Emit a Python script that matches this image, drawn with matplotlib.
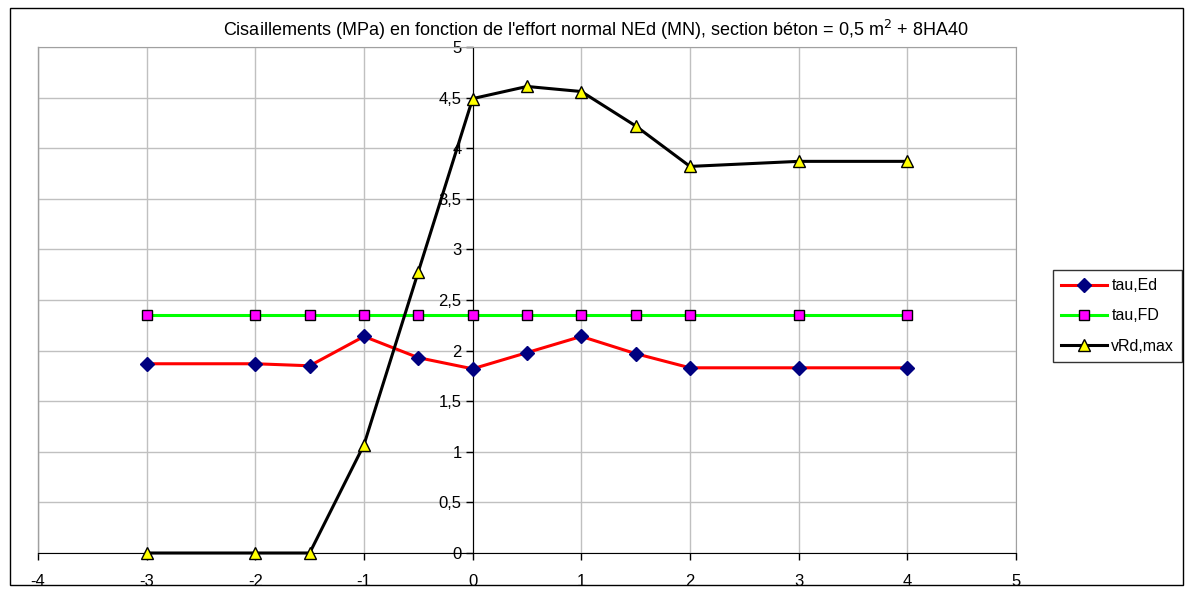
import matplotlib
matplotlib.use("Agg")
import matplotlib.pyplot as plt
from matplotlib.patches import Rectangle
from matplotlib.ticker import FuncFormatter

plt.rcParams['font.family'] = ['Liberation Sans', 'DejaVu Sans']

x_vals = [-3, -2, -1.5, -1, -0.5, 0, 0.5, 1, 1.5, 2, 3, 4]
tau_ed = [1.87, 1.87, 1.85, 2.14, 1.93, 1.82, 1.98, 2.14, 1.97, 1.83, 1.83, 1.83]
tau_fd = [2.35] * 12
vrd_max = [0.0, 0.0, 0.0, 1.07, 2.78, 4.49, 4.61, 4.56, 4.22, 3.82, 3.87, 3.87]
x_ticks = [-4, -3, -2, -1, 0, 1, 2, 3, 4, 5]
y_ticks = [0, 0.5, 1, 1.5, 2, 2.5, 3, 3.5, 4, 4.5, 5]
title = "Cisaillements (MPa) en fonction de l'effort normal NEd (MN), section béton = 0,5 m$^2$ + 8HA40"

fig = plt.figure(figsize=(11.87, 5.93), dpi=100)
fig.patches.append(Rectangle((10/1187, 1-585/593), 1173/1187, 577/593,
                             transform=fig.transFigure, fill=False,
                             edgecolor='black', linewidth=1))
ax = fig.add_axes([38/1187, 1-553/593, (1016-38)/1187, (553-47)/593])

ax.plot(x_vals, tau_ed, color='#ff0000', lw=2.2, marker='D', ms=7,
        mfc='#000080', mec='#000080', label='tau,Ed', zorder=4, clip_on=False)
ax.plot(x_vals, tau_fd, color='#00ff00', lw=2.2, marker='s', ms=7,
        mfc='#ff00ff', mec='black', mew=1, label='tau,FD', zorder=3, clip_on=False)
ax.plot(x_vals, vrd_max, color='black', lw=2.2, marker='^', ms=8.5,
        mfc='#ffff00', mec='black', mew=1, label='vRd,max', zorder=5, clip_on=False)

ax.set_xlim(-4, 5)
ax.set_ylim(0, 5)
ax.set_xticks(x_ticks)
ax.set_yticks(y_ticks)
fmt = FuncFormatter(lambda v, p: ('%g' % v).replace('.', ','))
ax.xaxis.set_major_formatter(fmt)
ax.yaxis.set_major_formatter(fmt)
ax.grid(True, color='#c0c0c0', lw=1)
ax.set_axisbelow(True)

ax.spines['left'].set_position(('data', 0))
ax.spines['left'].set_color('black')
ax.spines['bottom'].set_color('black')
ax.spines['right'].set_color('#a0a0a0')
ax.spines['top'].set_color('#a0a0a0')
ax.tick_params(axis='both', direction='out', length=5, width=1, labelsize=12, colors='black')
ax.tick_params(axis='x', pad=10)
ax.tick_params(axis='y', pad=3)

# gray left border of plot area
ax.plot([0, 0], [0, 1], transform=ax.transAxes, color='#a0a0a0', lw=1, clip_on=False, zorder=1)

fig.text(596/1187, 1-30/593, title, ha='center', va='center', fontsize=13)

leg = ax.legend(loc='center left', bbox_to_anchor=(1053/1187, 1-316/593),
                bbox_transform=fig.transFigure, frameon=True, fancybox=False,
                edgecolor='black', fontsize=11.5, handlelength=2.9,
                borderpad=0.5, labelspacing=0.95, handletextpad=0.25,
                borderaxespad=0)
leg.get_frame().set_linewidth(1)

fig.savefig('out.png', dpi=100)
